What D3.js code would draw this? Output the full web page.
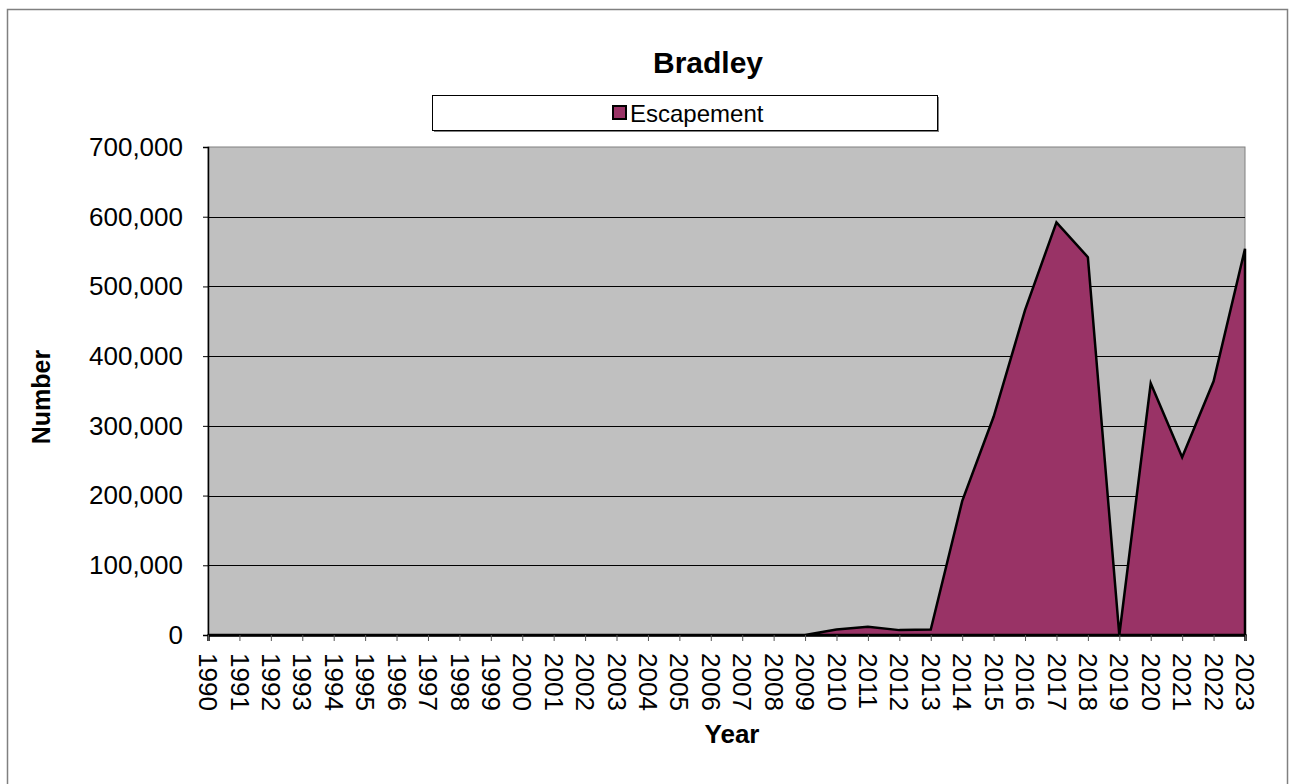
<!DOCTYPE html>
<html>
<head>
<meta charset="utf-8">
<script src="https://cdn.jsdelivr.net/npm/d3@7"></script>
<style>
  html, body { margin: 0; padding: 0; background: #ffffff; }
  svg { display: block; font-family: "Liberation Sans", Arial, sans-serif; }
</style>
</head>
<body>
<svg id="chart" width="1289" height="784"></svg>
<script>
// Escapement counts by year, Bradley
const years = [1990,1991,1992,1993,1994,1995,1996,1997,1998,1999,
               2000,2001,2002,2003,2004,2005,2006,2007,2008,2009,
               2010,2011,2012,2013,2014,2015,2016,2017,2018,2019,
               2020,2021,2022,2023];
const escapement = [0,0,0,0,0,0,0,0,0,0,
                    0,0,0,0,0,0,0,0,0,0,
                    8000,12000,7000,8000,192000,313000,466000,592000,542000,0,
                    361000,255000,364000,554000];
const yTicks = [0,100000,200000,300000,400000,500000,600000,700000];
const seriesName = "Escapement";
const chartTitle = "Bradley";

const svg = d3.select("#chart");
const W = 1289, H = 784;
const plot = { left: 208, right: 1245, top: 147, bottom: 635 };

// outer chart frame
svg.append("rect")
  .attr("x", 7.5).attr("y", 9.5)
  .attr("width", 1280).attr("height", 780)
  .attr("fill", "#ffffff").attr("stroke", "#808080").attr("stroke-width", 1.5);

const x = d3.scalePoint().domain(years).range([plot.left, plot.right]);
const y = d3.scaleLinear().domain([0, 700000]).range([plot.bottom, plot.top]);

// plot background
svg.append("rect")
  .attr("x", plot.left).attr("y", plot.top)
  .attr("width", plot.right - plot.left).attr("height", plot.bottom - plot.top)
  .attr("fill", "#c0c0c0").attr("stroke", "#808080").attr("stroke-width", 1);

// horizontal gridlines
svg.append("g")
  .selectAll("line")
  .data(yTicks.filter(d => d > 0 && d < 700000))
  .join("line")
  .attr("x1", plot.left).attr("x2", plot.right)
  .attr("y1", d => Math.round(y(d)) + 0.5).attr("y2", d => Math.round(y(d)) + 0.5)
  .attr("stroke", "#000000").attr("stroke-width", 1);

// area series
const area = d3.area()
  .x((d, i) => x(years[i]))
  .y0(y(0))
  .y1(d => y(d));
svg.append("path")
  .datum(escapement)
  .attr("d", area)
  .attr("fill", "#993366")
  .attr("stroke", "#000000")
  .attr("stroke-width", 2.5)
  .attr("stroke-linejoin", "miter");

// y axis
const yAxis = d3.axisLeft(y)
  .tickValues(yTicks)
  .tickSize(5)
  .tickPadding(20)
  .tickFormat(d3.format(","));
const gy = svg.append("g")
  .attr("transform", `translate(${plot.left},0)`)
  .call(yAxis);
gy.select(".domain").attr("stroke", "#000").attr("stroke-width", 1.5);
gy.selectAll(".tick line").attr("stroke", "#000");
gy.selectAll(".tick text")
  .attr("font-size", 26)
  .attr("fill", "#000")
  .attr("font-family", "Liberation Sans, Arial, sans-serif");

// x axis
const xAxis = d3.axisBottom(x).tickSize(6).tickPadding(0);
const gx = svg.append("g")
  .attr("transform", `translate(0,${plot.bottom})`)
  .call(xAxis);
gx.select(".domain").attr("stroke", "#000").attr("stroke-width", 2.5);
gx.selectAll(".tick line").attr("stroke", "#555");
gx.selectAll(".tick text")
  .attr("font-size", 26)
  .attr("fill", "#000")
  .attr("font-family", "Liberation Sans, Arial, sans-serif")
  .attr("text-anchor", "start")
  .attr("transform", "translate(0,18) rotate(90)")
  .attr("x", 0).attr("y", 0)
  .attr("dy", "0.36em");

// title
svg.append("text")
  .attr("x", 708).attr("y", 73)
  .attr("text-anchor", "middle")
  .attr("font-size", 30).attr("font-weight", "bold")
  .text(chartTitle);

// legend
const lg = svg.append("g");
lg.append("rect")
  .attr("x", 434).attr("y", 97).attr("width", 505).attr("height", 35)
  .attr("fill", "#808080");
lg.append("rect")
  .attr("x", 432.5).attr("y", 95.5).attr("width", 505).attr("height", 35)
  .attr("fill", "#ffffff").attr("stroke", "#000").attr("stroke-width", 1);
lg.append("rect")
  .attr("x", 613).attr("y", 106).attr("width", 13).attr("height", 13)
  .attr("fill", "#993366").attr("stroke", "#000").attr("stroke-width", 2);
lg.append("text")
  .attr("x", 630).attr("y", 122)
  .attr("font-size", 24)
  .text(seriesName);

// axis titles
svg.append("text")
  .attr("x", 732).attr("y", 743)
  .attr("text-anchor", "middle")
  .attr("font-size", 26).attr("font-weight", "bold")
  .text("Year");
svg.append("text")
  .attr("transform", "translate(50,397) rotate(-90)")
  .attr("text-anchor", "middle")
  .attr("font-size", 25).attr("font-weight", "bold")
  .text("Number");
</script>
</body>
</html>
